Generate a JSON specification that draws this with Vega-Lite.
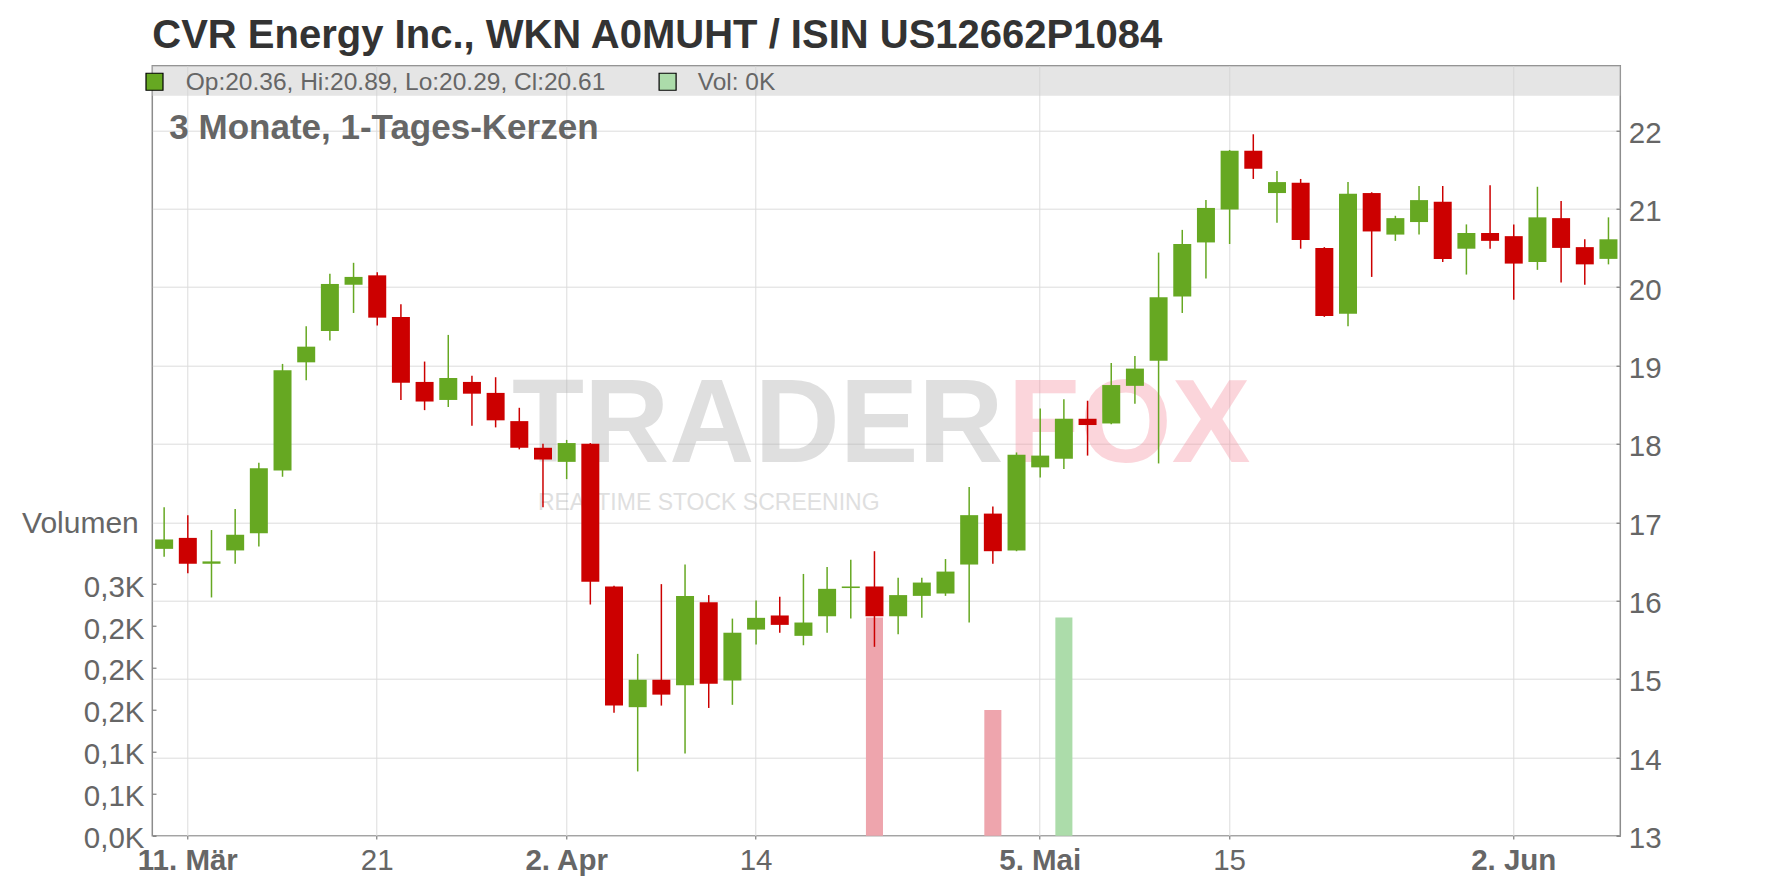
{
  "$schema": "https://vega.github.io/schema/vega-lite/v6.json",
  "width": 1468,
  "height": 770,
  "autosize": {"type": "none"},
  "padding": {"left": 152.3, "top": 65.7, "right": 155.7, "bottom": 52.3},
  "background": "white",
  "title": {
    "text": "CVR Energy Inc., WKN A0MUHT / ISIN US12662P1084",
    "anchor": "start",
    "frame": "group",
    "fontSize": 40,
    "fontWeight": "bold",
    "font": "Liberation Sans",
    "color": "#333333",
    "offset": 10
  },
  "datasets": {
    "candles": [
      {"d": "2025-03-10", "o": 16.66, "h": 17.19, "l": 16.56, "c": 16.78, "v": 0},
      {"d": "2025-03-11", "o": 16.80, "h": 17.09, "l": 16.35, "c": 16.47, "v": 0},
      {"d": "2025-03-12", "o": 16.47, "h": 16.90, "l": 16.04, "c": 16.50, "v": 0},
      {"d": "2025-03-13", "o": 16.64, "h": 17.17, "l": 16.47, "c": 16.84, "v": 0},
      {"d": "2025-03-14", "o": 16.86, "h": 17.76, "l": 16.69, "c": 17.69, "v": 0},
      {"d": "2025-03-17", "o": 17.66, "h": 19.02, "l": 17.58, "c": 18.94, "v": 0},
      {"d": "2025-03-18", "o": 19.04, "h": 19.50, "l": 18.81, "c": 19.24, "v": 0},
      {"d": "2025-03-19", "o": 19.44, "h": 20.17, "l": 19.32, "c": 20.04, "v": 0},
      {"d": "2025-03-20", "o": 20.03, "h": 20.31, "l": 19.67, "c": 20.13, "v": 0},
      {"d": "2025-03-21", "o": 20.15, "h": 20.19, "l": 19.51, "c": 19.61, "v": 0},
      {"d": "2025-03-24", "o": 19.62, "h": 19.78, "l": 18.56, "c": 18.78, "v": 0},
      {"d": "2025-03-25", "o": 18.79, "h": 19.05, "l": 18.43, "c": 18.54, "v": 0},
      {"d": "2025-03-26", "o": 18.56, "h": 19.39, "l": 18.47, "c": 18.84, "v": 0},
      {"d": "2025-03-27", "o": 18.79, "h": 18.87, "l": 18.23, "c": 18.64, "v": 0},
      {"d": "2025-03-28", "o": 18.65, "h": 18.85, "l": 18.21, "c": 18.30, "v": 0},
      {"d": "2025-03-31", "o": 18.29, "h": 18.46, "l": 17.93, "c": 17.95, "v": 0},
      {"d": "2025-04-01", "o": 17.95, "h": 18.00, "l": 17.19, "c": 17.80, "v": 0},
      {"d": "2025-04-02", "o": 17.77, "h": 18.05, "l": 17.55, "c": 18.01, "v": 0},
      {"d": "2025-04-03", "o": 18.00, "h": 18.01, "l": 15.95, "c": 16.24, "v": 0},
      {"d": "2025-04-04", "o": 16.18, "h": 16.19, "l": 14.57, "c": 14.66, "v": 0},
      {"d": "2025-04-07", "o": 14.64, "h": 15.32, "l": 13.82, "c": 14.99, "v": 0},
      {"d": "2025-04-08", "o": 14.99, "h": 16.21, "l": 14.66, "c": 14.80, "v": 0},
      {"d": "2025-04-09", "o": 14.92, "h": 16.46, "l": 14.05, "c": 16.06, "v": 0},
      {"d": "2025-04-10", "o": 15.98, "h": 16.07, "l": 14.63, "c": 14.94, "v": 0},
      {"d": "2025-04-11", "o": 14.98, "h": 15.77, "l": 14.67, "c": 15.59, "v": 0},
      {"d": "2025-04-14", "o": 15.63, "h": 16.00, "l": 15.44, "c": 15.78, "v": 0},
      {"d": "2025-04-15", "o": 15.81, "h": 16.05, "l": 15.59, "c": 15.69, "v": 0},
      {"d": "2025-04-16", "o": 15.55, "h": 16.34, "l": 15.43, "c": 15.72, "v": 0},
      {"d": "2025-04-17", "o": 15.80, "h": 16.43, "l": 15.59, "c": 16.15, "v": 0},
      {"d": "2025-04-22", "o": 16.16, "h": 16.52, "l": 15.77, "c": 16.18, "v": 0},
      {"d": "2025-04-23", "o": 16.18, "h": 16.63, "l": 15.41, "c": 15.80, "v": 260},
      {"d": "2025-04-24", "o": 15.80, "h": 16.29, "l": 15.57, "c": 16.07, "v": 0},
      {"d": "2025-04-25", "o": 16.06, "h": 16.29, "l": 15.78, "c": 16.23, "v": 0},
      {"d": "2025-04-28", "o": 16.09, "h": 16.53, "l": 16.06, "c": 16.37, "v": 0},
      {"d": "2025-04-29", "o": 16.46, "h": 17.45, "l": 15.72, "c": 17.09, "v": 0},
      {"d": "2025-04-30", "o": 17.11, "h": 17.20, "l": 16.47, "c": 16.63, "v": 150},
      {"d": "2025-05-02", "o": 16.64, "h": 17.89, "l": 16.63, "c": 17.86, "v": 0},
      {"d": "2025-05-05", "o": 17.70, "h": 18.45, "l": 17.57, "c": 17.85, "v": 0},
      {"d": "2025-05-06", "o": 17.81, "h": 18.57, "l": 17.68, "c": 18.32, "v": 260},
      {"d": "2025-05-07", "o": 18.32, "h": 18.55, "l": 17.85, "c": 18.24, "v": 0},
      {"d": "2025-05-08", "o": 18.26, "h": 19.03, "l": 18.25, "c": 18.75, "v": 0},
      {"d": "2025-05-09", "o": 18.74, "h": 19.12, "l": 18.51, "c": 18.96, "v": 0},
      {"d": "2025-05-12", "o": 19.06, "h": 20.44, "l": 17.75, "c": 19.87, "v": 0},
      {"d": "2025-05-13", "o": 19.88, "h": 20.73, "l": 19.67, "c": 20.55, "v": 0},
      {"d": "2025-05-14", "o": 20.57, "h": 21.11, "l": 20.11, "c": 21.01, "v": 0},
      {"d": "2025-05-15", "o": 20.99, "h": 21.75, "l": 20.55, "c": 21.74, "v": 0},
      {"d": "2025-05-16", "o": 21.74, "h": 21.95, "l": 21.38, "c": 21.51, "v": 0},
      {"d": "2025-05-19", "o": 21.20, "h": 21.48, "l": 20.82, "c": 21.34, "v": 0},
      {"d": "2025-05-20", "o": 21.33, "h": 21.38, "l": 20.49, "c": 20.60, "v": 0},
      {"d": "2025-05-21", "o": 20.50, "h": 20.51, "l": 19.62, "c": 19.63, "v": 0},
      {"d": "2025-05-22", "o": 19.66, "h": 21.34, "l": 19.50, "c": 21.19, "v": 0},
      {"d": "2025-05-23", "o": 21.20, "h": 21.21, "l": 20.13, "c": 20.71, "v": 0},
      {"d": "2025-05-26", "o": 20.67, "h": 20.91, "l": 20.59, "c": 20.88, "v": 0},
      {"d": "2025-05-27", "o": 20.83, "h": 21.29, "l": 20.67, "c": 21.11, "v": 0},
      {"d": "2025-05-28", "o": 21.09, "h": 21.29, "l": 20.32, "c": 20.36, "v": 0},
      {"d": "2025-05-29", "o": 20.49, "h": 20.80, "l": 20.16, "c": 20.69, "v": 0},
      {"d": "2025-05-30", "o": 20.69, "h": 21.30, "l": 20.49, "c": 20.59, "v": 0},
      {"d": "2025-06-02", "o": 20.65, "h": 20.80, "l": 19.84, "c": 20.30, "v": 0},
      {"d": "2025-06-03", "o": 20.32, "h": 21.28, "l": 20.22, "c": 20.89, "v": 0},
      {"d": "2025-06-04", "o": 20.88, "h": 21.10, "l": 20.06, "c": 20.50, "v": 0},
      {"d": "2025-06-05", "o": 20.51, "h": 20.61, "l": 20.03, "c": 20.29, "v": 0},
      {"d": "2025-06-06", "o": 20.36, "h": 20.89, "l": 20.29, "c": 20.61, "v": 0}
    ]
  },
  "data": {"name": "candles"},
  "layer": [
    {
      "transform": [{"filter": "datum.v > 0"}],
      "mark": {"type": "bar", "width": {"band": 0.72}},
      "encoding": {
        "x": {
          "field": "d", "type": "ordinal", "title": null,
          "scale": {"type": "band", "paddingInner": 0, "paddingOuter": 0},
          "axis": {
            "orient": "bottom",
            "values": ["2025-03-11", "2025-03-21", "2025-04-02", "2025-04-14", "2025-05-05", "2025-05-15", "2025-06-02"],
            "labelExpr": "datum.value=='2025-03-11'?'11. Mär':datum.value=='2025-03-21'?'21':datum.value=='2025-04-02'?'2. Apr':datum.value=='2025-04-14'?'14':datum.value=='2025-05-05'?'5. Mai':datum.value=='2025-05-15'?'15':'2. Jun'",
            "labelFontWeight": {"condition": {"test": "datum.value=='2025-03-11'||datum.value=='2025-04-02'||datum.value=='2025-05-05'||datum.value=='2025-06-02'", "value": "bold"}, "value": "normal"},
            "bandPosition": 0.5,
            "grid": true,
            "gridColor": "#dcdcdc",
            "gridWidth": 1,
            "domain": false,
            "ticks": true,
            "tickSize": 3.3,
            "tickColor": "#666666",
            "labelFontSize": 29.5,
            "labelColor": "#666666",
            "labelPadding": 7.7,
            "labelAngle": 0,
            "labelOverlap": false,
            "labelFlush": false,
            "title": null
          }
        },
        "y": {
          "field": "v", "type": "quantitative", "title": "Volumen",
          "scale": {"domain": [0, 918], "nice": false, "zero": true},
          "axis": {
            "orient": "left",
            "values": [0, 50, 100, 150, 200, 250, 300],
            "labelExpr": "datum.value==0?'0,0K':datum.value<=100?'0,1K':datum.value<=250?'0,2K':'0,3K'",
            "grid": false,
            "domain": false,
            "ticks": true,
            "tickSize": -3.7,
            "tickColor": "#666666",
            "labelFontSize": 29.5,
            "labelColor": "#666666",
            "labelPadding": 12,
            "labelOffset": 3,
            "labelOverlap": false,
            "title": "Volumen",
            "titleAngle": 0,
            "titleAlign": "right",
            "titleBaseline": "alphabetic",
            "titleX": -14,
            "titleY": 466.6,
            "titleFontSize": 30,
            "titleFontWeight": "normal",
            "titleColor": "#666666"
          }
        },
        "color": {"condition": {"test": "datum.c >= datum.o", "value": "#acdcaa"}, "value": "#eea5ad"}
      }
    },
    {
      "layer": [
        {
          "data": {"values": [{}]},
          "mark": {"type": "rect", "color": "#cfcfcf", "opacity": 0.55},
          "encoding": {
            "y": {"datum": 22.44, "type": "quantitative", "scale": {"domain": [13, 22.825], "nice": false, "zero": false}},
            "y2": {"datum": 22.825}
          }
        },
        {
          "data": {"values": [{}]},
          "mark": {"type": "text", "text": "TRADER", "align": "left", "baseline": "alphabetic", "dx": 16.3, "fontSize": 118, "fontWeight": "bold", "font": "Liberation Sans", "color": "#b0b0b0", "opacity": 0.4},
          "encoding": {
            "x": {"datum": "2025-03-28", "type": "ordinal", "scale": {"type": "band", "paddingInner": 0, "paddingOuter": 0}},
            "y": {"datum": 17.77, "type": "quantitative"}
          }
        },
        {
          "data": {"values": [{}]},
          "mark": {"type": "text", "text": "FOX", "align": "left", "baseline": "alphabetic", "dx": 15, "fontSize": 118, "fontWeight": "bold", "font": "Liberation Sans", "color": "#f58a9a", "opacity": 0.35},
          "encoding": {
            "x": {"datum": "2025-04-30", "type": "ordinal", "scale": {"type": "band", "paddingInner": 0, "paddingOuter": 0}},
            "y": {"datum": 17.77, "type": "quantitative"}
          }
        },
        {
          "data": {"values": [{}]},
          "mark": {"type": "text", "text": "REALTIME STOCK SCREENING", "align": "left", "baseline": "alphabetic", "dx": 42.3, "fontSize": 23, "font": "Liberation Sans", "color": "#b0b0b0", "opacity": 0.4},
          "encoding": {
            "x": {"datum": "2025-03-28", "type": "ordinal", "scale": {"type": "band", "paddingInner": 0, "paddingOuter": 0}},
            "y": {"datum": 17.16, "type": "quantitative"}
          }
        },
        {
          "data": {"values": [{}]},
          "mark": {"type": "text", "text": "3 Monate, 1-Tages-Kerzen", "align": "left", "baseline": "alphabetic", "dx": 5.2, "fontSize": 35, "fontWeight": "bold", "font": "Liberation Sans", "color": "#666666"},
          "encoding": {
            "x": {"datum": "2025-03-10", "type": "ordinal", "scale": {"type": "band", "paddingInner": 0, "paddingOuter": 0}},
            "y": {"datum": 21.885, "type": "quantitative"}
          }
        },
        {
          "data": {"values": [{}]},
          "mark": {"type": "point", "shape": "square", "size": 289, "filled": true, "fill": "#66a822", "stroke": "#000000", "strokeWidth": 1.2, "opacity": 1},
          "encoding": {
            "x": {"datum": "2025-03-10", "type": "ordinal", "scale": {"type": "band", "paddingInner": 0, "paddingOuter": 0}},
            "xOffset": {"value": 2.2},
            "y": {"datum": 22.62, "type": "quantitative"}
          }
        },
        {
          "data": {"values": [{}]},
          "mark": {"type": "text", "text": "Op:20.36, Hi:20.89, Lo:20.29, Cl:20.61", "align": "left", "baseline": "alphabetic", "dx": 21.6, "fontSize": 24.5, "font": "Liberation Sans", "color": "#666666"},
          "encoding": {
            "x": {"datum": "2025-03-10", "type": "ordinal", "scale": {"type": "band", "paddingInner": 0, "paddingOuter": 0}},
            "y": {"datum": 22.514, "type": "quantitative"}
          }
        },
        {
          "data": {"values": [{}]},
          "mark": {"type": "point", "shape": "square", "size": 289, "filled": true, "fill": "#acdcaa", "stroke": "#000000", "strokeWidth": 1.2, "opacity": 1},
          "encoding": {
            "x": {"datum": "2025-04-09", "type": "ordinal", "scale": {"type": "band", "paddingInner": 0, "paddingOuter": 0}},
            "xOffset": {"value": -5.6},
            "y": {"datum": 22.62, "type": "quantitative"}
          }
        },
        {
          "data": {"values": [{}]},
          "mark": {"type": "text", "text": "Vol: 0K", "align": "left", "baseline": "alphabetic", "dx": 12.6, "fontSize": 24.5, "font": "Liberation Sans", "color": "#666666"},
          "encoding": {
            "x": {"datum": "2025-04-09", "type": "ordinal", "scale": {"type": "band", "paddingInner": 0, "paddingOuter": 0}},
            "y": {"datum": 22.514, "type": "quantitative"}
          }
        },
        {
          "mark": {"type": "rule", "strokeWidth": 1.5},
          "encoding": {
            "x": {"field": "d", "type": "ordinal", "title": null, "scale": {"type": "band", "paddingInner": 0, "paddingOuter": 0}},
            "y": {"field": "l", "type": "quantitative", "title": null},
            "y2": {"field": "h"},
            "color": {"condition": {"test": "datum.c >= datum.o", "value": "#66a822"}, "value": "#cc0000"}
          }
        },
        {
          "mark": {"type": "bar", "width": {"band": 0.76}},
          "encoding": {
            "x": {"field": "d", "type": "ordinal", "title": null, "scale": {"type": "band", "paddingInner": 0, "paddingOuter": 0}},
            "y": {
              "field": "o", "type": "quantitative", "title": null,
              "scale": {"domain": [13, 22.825], "nice": false, "zero": false},
              "axis": {
                "orient": "right",
                "values": [13, 14, 15, 16, 17, 18, 19, 20, 21, 22],
                "format": "d",
                "grid": true,
                "gridColor": "#dcdcdc",
                "gridWidth": 1,
                "domain": false,
                "ticks": true,
                "tickSize": -4.3,
                "tickColor": "#666666",
                "labelFontSize": 29.5,
                "labelColor": "#666666",
                "labelPadding": 12.3,
                "labelOffset": 3,
                "labelOverlap": false,
                "title": null
              }
            },
            "y2": {"field": "c"},
            "color": {"condition": {"test": "datum.c >= datum.o", "value": "#66a822"}, "value": "#cc0000"}
          }
        }
      ]
    }
  ],
  "resolve": {"scale": {"y": "independent"}},
  "config": {
    "font": "Liberation Sans",
    "view": {"stroke": "#8c8c8c", "strokeWidth": 1.5},
    "axis": {"labelFont": "Liberation Sans", "titleFont": "Liberation Sans"}
  }
}
